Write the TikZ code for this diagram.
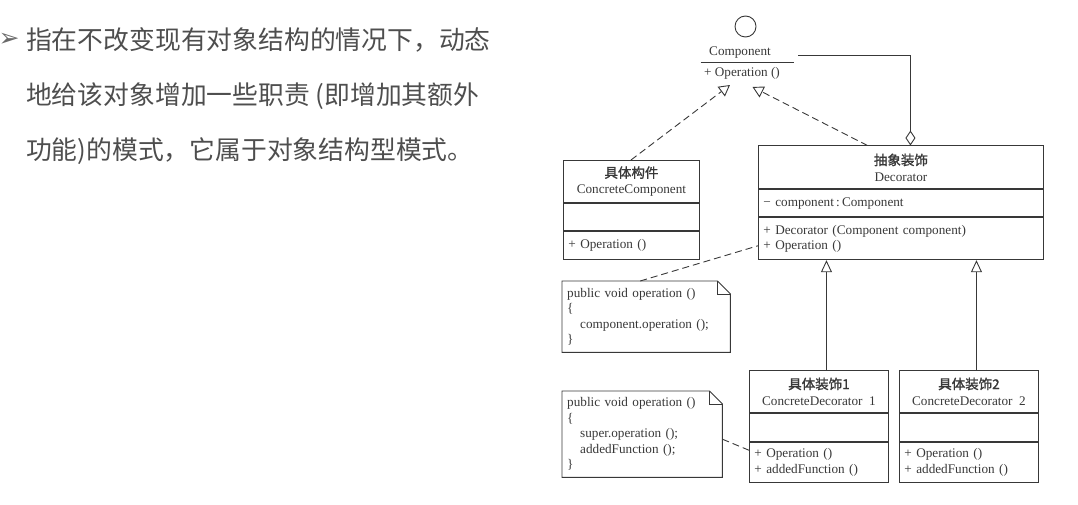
\documentclass[tikz,border=0pt]{standalone}
\usepackage{fontspec}
\setmainfont{Liberation Serif}
\newfontfamily\cjk{Noto Sans CJK SC}
\newfontfamily\cjkb[FakeBold=1.4]{Noto Sans CJK SC}
\newfontfamily\dingfont{DejaVu Sans}
\usepackage{xcolor}
\usepackage{tikz}
\usetikzlibrary{arrows.meta, positioning}

\definecolor{ink}{HTML}{383838}
\definecolor{slidetext}{HTML}{4E4E4E}

\begin{document}
\begin{tikzpicture}[
  x=1pt, y=-1pt,
  node distance=0pt,
  every node/.style={font=\fontsize{13.2}{15.5}\selectfont, text=ink},
  part/.style={draw=ink, line width=0.9pt, inner sep=5pt},
  headbox/.style={part, minimum width=#1, minimum height=42pt, align=center,
    font=\fontsize{13.2}{16}\selectfont},
  membox/.style={part, text width=#1, align=left},
  note/.style={inner sep=5pt, text width=#1, align=left, anchor=north west},
  slide/.style={font=\cjk\fontsize{25.8}{30}\selectfont, text=slidetext, inner sep=0pt, anchor=base west},
  line/.style={draw=ink, line width=0.9pt},
  realize/.style={line, dash pattern=on 7pt off 4pt, -{Triangle[open, length=11pt, width=12pt]}},
  inherit/.style={line, -{Triangle[open, length=12pt, width=11pt]}},
  aggr/.style={line, -{Diamond[open, length=15pt, width=10pt]}},
  notelink/.style={line, dash pattern=on 7pt off 4pt}
]
\useasboundingbox (0,0) rectangle (1078,505);

% Slide text on the left
\node[font=\dingfont\fontsize{25}{25}\selectfont, text=slidetext!85, inner sep=0pt] (bullet) at (9,40) {➢};
\node[slide] (line1) at (26,50)  {指在不改变现有对象结构的情况下，动态};
\node[slide] (line2) at (26,105) {地给该对象增加一些职责 (即增加其额外};
\node[slide] (line3) at (26,160) {功能)的模式，它属于对象结构型模式。};

% Interface (lollipop) Component
\node[draw=ink, line width=0.9pt, circle, minimum size=21pt, inner sep=0pt] (iface) at (745.5,26.5) {};
\node (comp)    at (740,52.5) {Component};
\node (compops) at (742,73)   {+ Operation ()};
\coordinate (barL) at (700.5,62);
\coordinate (barR) at (793.5,62);
\draw[line] (barL) -- (barR);
\coordinate (aggStart) at (798,55.5);
\coordinate (realL) at (730,85);
\coordinate (realR) at (752.5,87);

% ConcreteComponent
\node[headbox=136pt, anchor=north west] (cctitle) at (563,160)
  {{\cjkb\fontsize{13.5}{16}\selectfont 具体构件}\\ConcreteComponent};
\node[membox=126pt, minimum height=27pt, below=of cctitle] (ccattr) {};
\node[membox=126pt, minimum height=28pt, below=of ccattr]  (ccops)  {+ Operation ()};

% Decorator
\node[headbox=285pt, minimum height=43pt, anchor=north west] (dectitle) at (758,145.5)
  {{\cjkb\fontsize{13.5}{16}\selectfont 抽象装饰}\\Decorator};
\node[membox=275pt, minimum height=27pt, below=of dectitle] (decattr) {− component\,:\,Component};
\node[membox=275pt, minimum height=42pt, below=of decattr]  (decops)
  {+ Decorator (Component component)\\+ Operation ()};

% Concrete decorators
\node[headbox=139pt, anchor=north west] (cdatitle) at (749,370)
  {{\cjkb\fontsize{13.5}{16}\selectfont 具体装饰1}\\ConcreteDecorator\ \ 1};
\node[membox=129pt, minimum height=28pt, below=of cdatitle] (cdaattr) {};
\node[membox=129pt, minimum height=40pt, below=of cdaattr]  (cdaops)
  {+ Operation ()\\+ addedFunction ()};

\node[headbox=139pt, anchor=north west] (cdbtitle) at (899,370)
  {{\cjkb\fontsize{13.5}{16}\selectfont 具体装饰2}\\ConcreteDecorator\ \ 2};
\node[membox=129pt, minimum height=28pt, below=of cdbtitle] (cdbattr) {};
\node[membox=129pt, minimum height=40pt, below=of cdbattr]  (cdbops)
  {+ Operation ()\\+ addedFunction ()};

% Notes
\node[note=158pt, minimum height=71pt] (noteop) at (562,281)
  {public void operation ()\\\{\\\hspace*{13pt}component.operation ();\\\}};
\node[note=150pt, minimum height=86pt] (noteadd) at (562,391)
  {public void operation ()\\\{\\\hspace*{13pt}super.operation ();\\\hspace*{13pt}addedFunction ();\\\}};
\foreach \n in {noteop, noteadd} {
  \draw[line] (\n.north west) -- ([xshift=-13]\n.north east) -- ([yshift=-13]\n.north east)
    -- (\n.south east) -- (\n.south west) -- cycle;
  \draw[line] ([xshift=-13]\n.north east) |- ([yshift=-13]\n.north east);
}

% Realizations of Component
\draw[realize] ([xshift=-0.5]cctitle.north) -- (realL);
\draw[realize] ([xshift=-33.5]dectitle.north) -- (realR);

% Aggregation Decorator <>-- Component
\draw[aggr] (aggStart) -| ([xshift=9.5]dectitle.north);

% Inheritance
\draw[inherit] ([xshift=7.5]cdatitle.north) -- ([xshift=7.5]cdatitle.north |- decops.south);
\draw[inherit] ([xshift=7.5]cdbtitle.north) -- ([xshift=7.5]cdbtitle.north |- decops.south);

% Note links
\draw[notelink] ([xshift=-6]noteop.north) -- ([yshift=-7]decops.west);
\draw[notelink] ([yshift=-5]noteadd.east) -- ([yshift=12]cdaops.west);

\end{tikzpicture}
\end{document}
